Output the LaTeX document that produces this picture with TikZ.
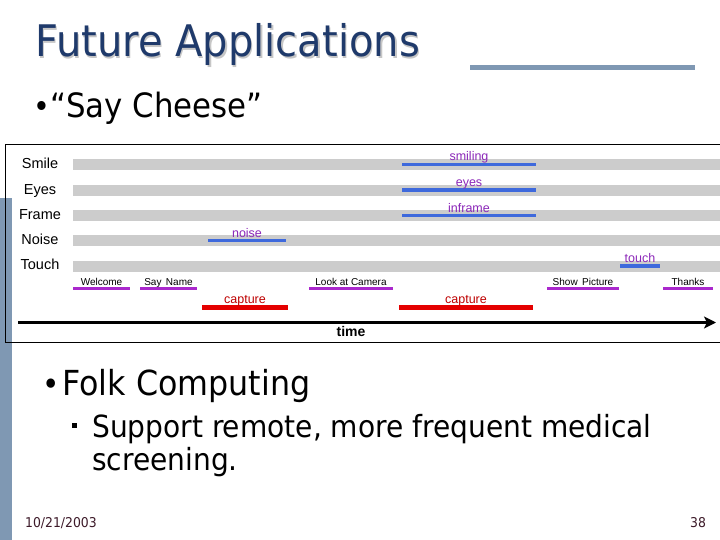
\documentclass[tikz,border=0pt]{standalone}
\usepackage{fontspec}
\usepackage{xcolor}
\usepackage{tikz}
\usetikzlibrary{arrows.meta, positioning}
\newfontfamily\slidefont[FakeStretch=0.92]{DejaVu Sans}
\newfontfamily\diafont{Liberation Sans}
\definecolor{titleblue}{RGB}{31,58,107}
\definecolor{sidebar}{RGB}{127,152,179}
\definecolor{trackgray}{RGB}{204,204,204}
\definecolor{evblue}{RGB}{62,105,220}
\definecolor{evpurple}{RGB}{140,40,185}
\definecolor{saypurple}{RGB}{170,40,205}
\definecolor{capred}{RGB}{228,0,0}
\definecolor{capdark}{RGB}{190,0,0}
\definecolor{footer}{RGB}{60,25,40}
\tikzset{
    slidetext/.style={anchor=base west, inner sep=0pt, font=\slidefont\fontsize{#1}{#1}\selectfont},
    track/.style={fill=trackgray, draw=none},
    rowlabel/.style={anchor=base, inner sep=0pt, font=\diafont\fontsize{14.5}{16}\selectfont},
    evbar/.style={line width=3.5pt, draw=evblue},
    evlabel/.style={anchor=base, inner sep=0pt, yshift=3.5pt, text=evpurple, font=\diafont\fontsize{12.5}{14}\selectfont},
    saybar/.style={line width=3.5pt, draw=saypurple},
    saylabel/.style={anchor=base, inner sep=0pt, yshift=3pt, font=\diafont\fontsize{10}{12}\selectfont},
    capbar/.style={line width=4.5pt, draw=capred},
    caplabel/.style={anchor=base, inner sep=0pt, yshift=4pt, text=capdark, font=\diafont\fontsize{12.5}{14}\selectfont},
    timeline/.style={line width=3.5pt, -{Stealth[length=12pt, width=12pt, inset=3pt]}}
}
\begin{document}
\begin{tikzpicture}[x=1pt, y=-1pt]
    \useasboundingbox[fill=white] (0,0) rectangle (720,540);
    \fill[sidebar] (0,198) rectangle (12,540);

    % heading
    \node (titleshadow) [slidetext=43.5, text=gray!45] at (36.5,58.5) {Future Applications};
    \node (title) [slidetext=43.5, text=titleblue] at (35,57) {Future Applications};
    \fill[sidebar] (470,65.5) rectangle (695,70.5);
    \node (bullet1) [slidetext=31] at (33,118) {•};
    \node (cheese) [slidetext=33.5] at (50,118) {“Say Cheese”};

    % timeline chart
    \draw[line width=1pt] (722,145) -- (5,145) -- (5,342) -- (722,342);
    \foreach \name [count=\i from 0] in {Smile,Eyes,Frame,Noise,Touch} {
        \fill[track] (73,{159.5+25.25*\i}) rectangle (720,{170.5+25.25*\i});
        \node (row\i) [rowlabel] at (40,{169+25.2*\i}) {\name};
    }
    \draw[evbar] (402,164.5) -- node[evlabel] (smiling) {smiling} (536,164.5);
    \draw[evbar] (402,190) -- node[evlabel] (eyes) {eyes} (536,190);
    \draw[evbar] (402,215.5) -- node[evlabel] (inframe) {inframe} (536,215.5);
    \draw[evbar] (208,240.5) -- node[evlabel] (noise) {noise} (286,240.5);
    \draw[evbar] (620,266) -- node[evlabel] (touch) {touch} (660,266);

    \draw[saybar] (73,288.5) -- node[saylabel] (welcome) {Welcome} (130,288.5);
    \draw[saybar] (140,288.5) -- node[saylabel] (sayname) {Say\, Name} (197,288.5);
    \draw[saybar] (309,288.5) -- node[saylabel] (lookcam) {Look at Camera} (393,288.5);
    \draw[saybar] (547,288.5) -- node[saylabel] (showpic) {Show\, Picture} (619,288.5);
    \draw[saybar] (663,288.5) -- node[saylabel] (thanks) {Thanks} (713,288.5);

    \draw[capbar] (202,307.5) -- node[caplabel] (capture1) {capture} (288,307.5);
    \draw[capbar] (399,307.5) -- node[caplabel] (capture2) {capture} (533,307.5);

    \coordinate (tstart) at (18,322.5);
    \coordinate (tend) at (716,322.5);
    \draw[timeline] (tstart) -- (tend);
    \node (time) [rowlabel, font=\diafont\bfseries\fontsize{14}{16}\selectfont] at (351,336) {time};

    % second point
    \node (bullet2) [slidetext=32] at (42,395) {•};
    \node (folk) [slidetext=34.5] at (62,395) {Folk Computing};
    \node (bullet3) [fill=black, minimum size=5.5pt, inner sep=0pt] at (74.5,425.5) {};
    \node (support) [slidetext=30.5] at (92,437) {Support remote, more frequent medical};
    \node (screening) [slidetext=30.5] at (92,470) {screening.};

    % footer
    \node (date) [slidetext=13.5, text=footer] at (25,527) {10/21/2003};
    \node (page) [slidetext=13.5, text=footer] at (690,527) {38};
\end{tikzpicture}
\end{document}
